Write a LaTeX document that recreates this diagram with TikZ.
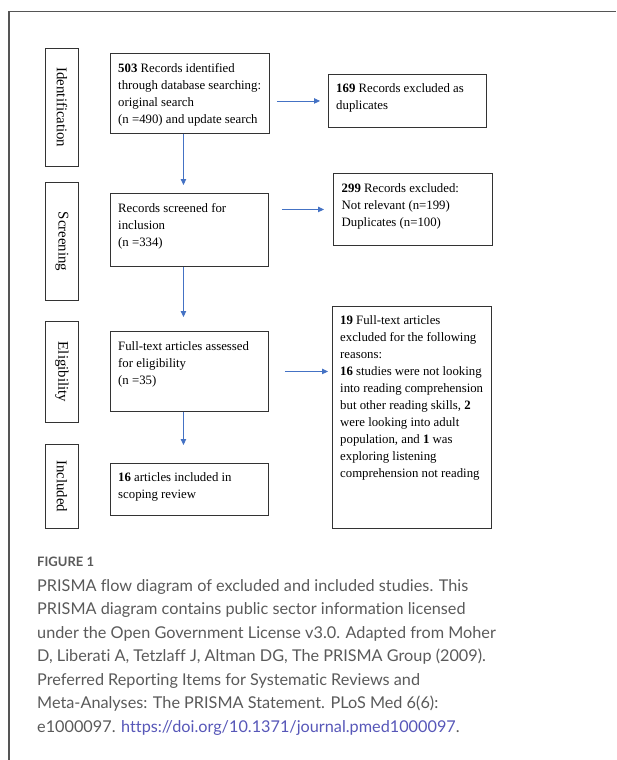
\documentclass[tikz,border=0pt]{standalone}
\usepackage{fontspec}
\setmainfont{Liberation Serif}
\newfontfamily\capfont[Ligatures={NoCommon,NoRare}]{Lato}
\usetikzlibrary{arrows.meta}
\definecolor{arrblue}{HTML}{4472C4}
\definecolor{boxgray}{HTML}{333333}
\definecolor{framegray}{HTML}{555555}
\definecolor{capgray}{HTML}{5A5A5A}
\definecolor{linkblue}{HTML}{5757B8}
\begin{document}
\begin{tikzpicture}[x=1pt,y=-1pt,
  box/.style={draw=boxgray, line width=0.9pt, anchor=north west, inner sep=0pt},
  txt/.style={anchor=north west, inner sep=0pt, align=left, text=black,
    font=\fontsize{12.8}{17}\selectfont},
  stagelabel/.style={rotate=-90, inner sep=0pt, font=\fontsize{14.8}{17}\selectfont},
  arr/.style={draw=arrblue, line width=0.9pt, -{Triangle[length=6pt,width=5.5pt]}}]
\useasboundingbox (0,0) rectangle (616,760);
% frame
\draw[framegray, line width=1.2pt] (9,760) -- (9,11.5) -- (616,11.5);
% stage boxes
\node[box, minimum width=33pt, minimum height=118pt] (sid) at (45,48) {};
\node[box, minimum width=33pt, minimum height=118pt] (sscr) at (45,182) {};
\node[box, minimum width=33pt, minimum height=101pt] (selig) at (45,321) {};
\node[box, minimum width=33pt, minimum height=84pt] (sinc) at (45,444) {};
\node[stagelabel] (lid) at (sid.center) {Identification};
\node[stagelabel] (lscr) at (sscr.center) {Screening};
\node[stagelabel] (lelig) at (selig.center) {Eligibility};
\node[stagelabel] (linc) at (sinc.center) {Included};
% main boxes
\node[box, minimum width=159pt, minimum height=80pt] (b1) at (110,53) {};
\node[box, minimum width=158pt, minimum height=73pt] (b2) at (110,193) {};
\node[box, minimum width=158pt, minimum height=80pt] (b3) at (110,331) {};
\node[box, minimum width=158pt, minimum height=52pt] (b4) at (110,463) {};
% exclusion boxes
\node[box, minimum width=158pt, minimum height=53pt] (e1) at (328,74) {};
\node[box, minimum width=159pt, minimum height=72pt] (e2) at (333,173) {};
\node[box, minimum width=159pt, minimum height=222pt] (e3) at (332,306) {};
% texts
\node[txt] (tb1) at (118,63.3) {\textbf{503} Records identified\\through database searching:\\original search\\(n =490) and update search};
\node[txt] (tb2) at (118,203.3) {Records screened for\\inclusion\\(n =334)};
\node[txt] (tb3) at (118,341.3) {Full-text articles assessed\\for eligibility\\(n =35)};
\node[txt] (tb4) at (118,472.8) {\textbf{16} articles included in\\scoping review};
\node[txt] (te1) at (336,83.8) {\textbf{169} Records excluded as\\duplicates};
\node[txt] (te2) at (341.5,183.3) {\textbf{299} Records excluded:\\Not relevant (n=199)\\Duplicates (n=100)};
\node[txt] (te3) at (340,315.8) {\textbf{19} Full-text articles\\excluded for the following\\reasons:\\\textbf{16} studies were not looking\\into reading comprehension\\but other reading skills, \textbf{2}\\were looking into adult\\population, and \textbf{1} was\\exploring listening\\comprehension not reading};
% arrows
\draw[arr, shorten <=7pt, shorten >=8pt] (b1.east |- e1.west) -- (e1.west);
\draw[arr, shorten <=13pt, shorten >=9pt] (b2.east |- e2.west) -- (e2.west);
\draw[arr, shorten <=16pt, shorten >=4pt] (b3.east) -- (e3.west |- b3.east);
\draw[arr, shorten >=8pt] ([xshift=-6.5pt]b1.south) -- ([xshift=-6pt]b2.north);
\draw[arr, shorten >=14pt] ([xshift=-6pt]b2.south) -- ([xshift=-6pt]b3.north);
\draw[arr, shorten >=18pt] ([xshift=-6pt]b3.south) -- ([xshift=-6pt]b4.north);
% caption
\node[anchor=base west, inner sep=0pt, text=capgray, font=\capfont\bfseries\fontsize{13}{15}\selectfont] (fig) at (37,566.5) {FIGURE 1};
\node[anchor=north west, inner sep=0pt, align=left, text=capgray, font=\capfont\fontsize{16.25}{23.5}\selectfont] (cap) at (37,579) {PRISMA flow diagram of excluded and included studies. This\\PRISMA diagram contains public sector information licensed\\under the Open Government License v3.0. Adapted from Moher\\D, Liberati A, Tetzlaff J, Altman DG, The PRISMA Group (2009).\\Preferred Reporting Items for Systematic Reviews and\\Meta-Analyses: The PRISMA Statement. PLoS Med 6(6):\\e1000097. \textcolor{linkblue}{https://doi.org/10.1371/journal.pmed1000097}.};
\end{tikzpicture}
\end{document}
